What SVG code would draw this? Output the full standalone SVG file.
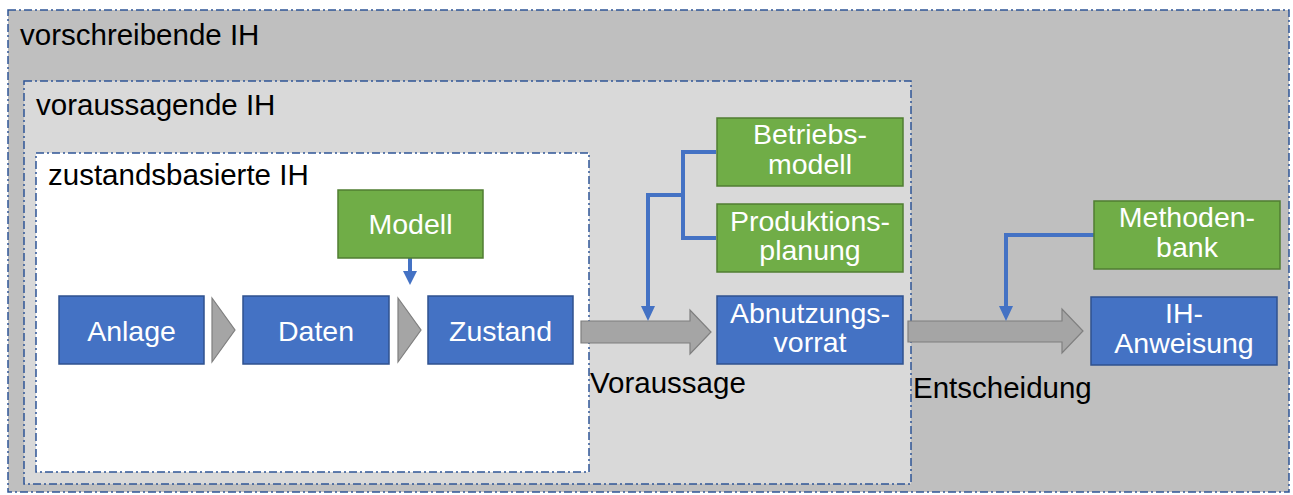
<svg xmlns="http://www.w3.org/2000/svg" width="1293" height="495" viewBox="0 0 1293 495">
<style>
.frame{stroke:#2F5597;stroke-width:1.5;stroke-dasharray:8 3 2 3}
.hdr{font-family:"Liberation Sans",Arial,sans-serif;font-size:29.5px;fill:#000}
.blue{fill:#4472C4;stroke:#2F528F;stroke-width:1.5}
.green{fill:#70AD47;stroke:#507E32;stroke-width:1.5}
.lbl{font-family:"Liberation Sans",Arial,sans-serif;font-size:28.5px;fill:#fff;text-anchor:middle}
.chev{fill:#A5A5A5;stroke:#7F7F7F;stroke-width:1.2}
.conn{fill:none;stroke:#4472C4;stroke-width:4}
.head{fill:#4472C4}
</style>
<rect width="1293" height="495" fill="#fff"/>
<g id="vorschreibende">
<rect class="frame" x="8" y="10" width="1281" height="482" fill="#BFBFBF"/>
<text class="hdr" x="20" y="45">vorschreibende IH</text>
</g>
<g id="voraussagende">
<rect class="frame" x="24" y="81" width="887" height="403" fill="#D9D9D9"/>
<text class="hdr" x="36" y="115">voraussagende IH</text>
</g>
<g id="zustandsbasierte">
<rect class="frame" x="36" y="153" width="553" height="319" fill="#FFFFFF"/>
<text class="hdr" x="48" y="185">zustandsbasierte IH</text>
</g>
<g id="connectors">
<polygon class="chev" points="212,298 235,330 212,362"/>
<polygon class="chev" points="398,298 421,330 398,362"/>
<polygon class="chev" points="581,321 690,321 690,310 711,332 690,354 690,343 581,343"/>
<polygon class="chev" points="908,321 1062,321 1062,309 1083,331 1062,353 1062,342 908,342"/>
<path class="conn" d="M410,258 V272"/>
<polygon class="head" points="403,271 417,271 410,285"/>
<path class="conn" d="M716,152 H683 V238 H716"/>
<path class="conn" d="M683,195 H648 V308"/>
<polygon class="head" points="641,306 655,306 648,321"/>
<path class="conn" d="M1094,235 H1006 V308"/>
<polygon class="head" points="999,306 1013,306 1006,321"/>
<text class="hdr" x="590" y="393">Voraussage</text>
<text class="hdr" x="913" y="398">Entscheidung</text>
</g>
<g id="anlage"><rect class="blue" x="59" y="296" width="145" height="68"/><text class="lbl" x="131.5" y="341">Anlage</text></g>
<g id="daten"><rect class="blue" x="243" y="296" width="146" height="68"/><text class="lbl" x="316" y="341">Daten</text></g>
<g id="zustand"><rect class="blue" x="428" y="296" width="145" height="68"/><text class="lbl" x="500.5" y="341">Zustand</text></g>
<g id="modell"><rect class="green" x="338" y="190" width="145" height="68"/><text class="lbl" x="410.5" y="234">Modell</text></g>
<g id="betriebsmodell"><rect class="green" x="717" y="118" width="186" height="68"/><text class="lbl" x="810" y="144">Betriebs-</text><text class="lbl" x="810" y="174">modell</text></g>
<g id="produktionsplanung"><rect class="green" x="717" y="204" width="186" height="68"/><text class="lbl" x="810" y="231">Produktions-</text><text class="lbl" x="810" y="260">planung</text></g>
<g id="abnutzungsvorrat"><rect class="blue" x="717" y="296" width="186" height="68"/><text class="lbl" x="810" y="323">Abnutzungs-</text><text class="lbl" x="810" y="352">vorrat</text></g>
<g id="methodenbank"><rect class="green" x="1094" y="201" width="186" height="68"/><text class="lbl" x="1187" y="227">Methoden-</text><text class="lbl" x="1187" y="257">bank</text></g>
<g id="ih-anweisung"><rect class="blue" x="1091" y="297" width="186" height="68"/><text class="lbl" x="1184" y="323">IH-</text><text class="lbl" x="1184" y="353">Anweisung</text></g>
</svg>
